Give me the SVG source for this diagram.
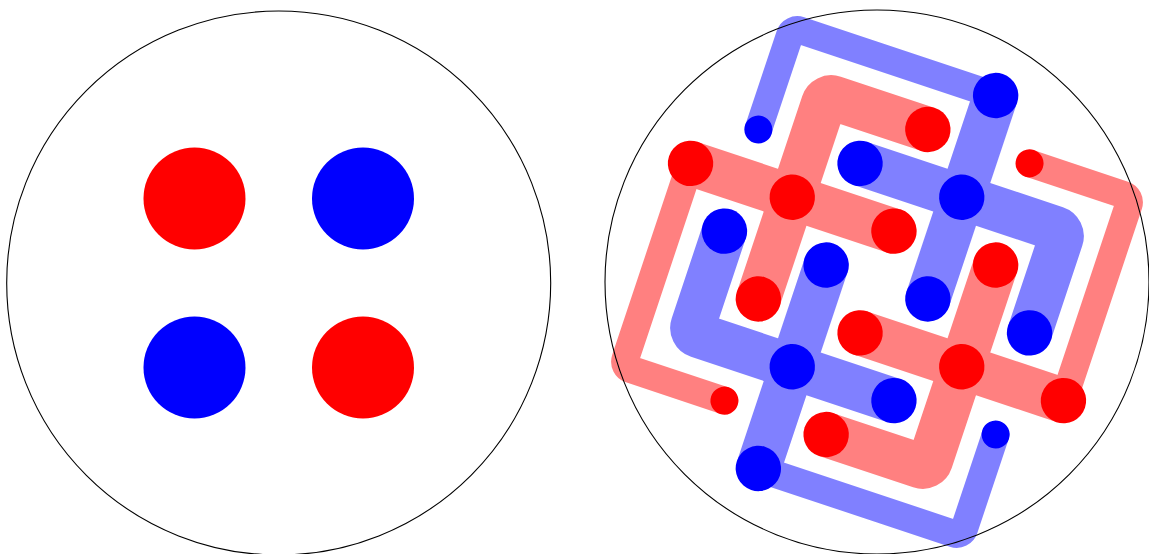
<svg xmlns="http://www.w3.org/2000/svg" width="1149" height="554" viewBox="0 0 1149 554">
<style>
.ring{fill:none;stroke:#000;stroke-width:1.1}
.rt,.rk{fill:none;stroke:#ff8080;stroke-linecap:butt;stroke-linejoin:round}
.bt,.bk{fill:none;stroke:#8080ff;stroke-linecap:butt;stroke-linejoin:round}
.rt,.bt{stroke-width:27.5}
.rk,.bk{stroke-width:45}
.r{fill:#ff0000}
.b{fill:#0000ff}
</style>
<rect width="1149" height="554" fill="#fff"/>
<g id="left">
<circle id="l-red-1" class="r" cx="194.5" cy="198.5" r="51"/>
<circle id="l-blue-1" class="b" cx="363" cy="198.5" r="51"/>
<circle id="l-blue-2" class="b" cx="194.5" cy="367.5" r="51"/>
<circle id="l-red-2" class="r" cx="363" cy="367.5" r="51"/>
<circle id="l-ring" class="ring" cx="278.7" cy="283" r="272"/>
</g>
<g id="right" transform="translate(877,282) rotate(18.4349)">
<g id="connectors">
<path class="rt" d="M107.2,-160.8 L206.4,-160.8 A8 8 0 0 1 214.4,-152.8 L214.4,53.6"/>
<path class="rt" d="M-107.2,160.8 L-206.4,160.8 A8 8 0 0 1 -214.4,152.8 L-214.4,-53.6"/>
<path class="bt" d="M-160.8,-107.2 L-160.8,-206.4 A8 8 0 0 1 -152.8,-214.4 L53.6,-214.4"/>
<path class="bt" d="M160.8,107.2 L160.8,206.4 A8 8 0 0 1 152.8,214.4 L-53.6,214.4"/>
<path class="rk" d="M214.4,53.6 L0,53.6"/>
<path class="rk" d="M-214.4,-53.6 L0,-53.6"/>
<path class="rk" d="M107.2,-53.6 L107.2,152.8 A8 8 0 0 1 99.2,160.8 L0,160.8"/>
<path class="rk" d="M-107.2,53.6 L-107.2,-152.8 A8 8 0 0 1 -99.2,-160.8 L0,-160.8"/>
<path class="bk" d="M53.6,-214.4 L53.6,0"/>
<path class="bk" d="M-53.6,214.4 L-53.6,0"/>
<path class="bk" d="M-53.6,-107.2 L152.8,-107.2 A8 8 0 0 1 160.8,-99.2 L160.8,0"/>
<path class="bk" d="M53.6,107.2 L-152.8,107.2 A8 8 0 0 1 -160.8,99.2 L-160.8,0"/>
</g>
<g id="red-nodes">
<circle class="r" cx="-214.4" cy="-53.6" r="22.7"/>
<circle class="r" cx="-107.2" cy="-53.6" r="22.7"/>
<circle class="r" cx="0" cy="-160.8" r="22.7"/>
<circle class="r" cx="0" cy="-53.6" r="22.7"/>
<circle class="r" cx="-107.2" cy="53.6" r="22.7"/>
<circle class="r" cx="107.2" cy="-53.6" r="22.7"/>
<circle class="r" cx="0" cy="53.6" r="22.7"/>
<circle class="r" cx="107.2" cy="53.6" r="22.7"/>
<circle class="r" cx="214.4" cy="53.6" r="22.7"/>
<circle class="r" cx="0" cy="160.8" r="22.7"/>
<circle class="r" cx="107.2" cy="-160.8" r="14"/>
<circle class="r" cx="-107.2" cy="160.8" r="14"/>
</g>
<g id="blue-nodes">
<circle class="b" cx="53.6" cy="-214.4" r="22.7"/>
<circle class="b" cx="-53.6" cy="-107.2" r="22.7"/>
<circle class="b" cx="53.6" cy="-107.2" r="22.7"/>
<circle class="b" cx="-160.8" cy="0" r="22.7"/>
<circle class="b" cx="-53.6" cy="0" r="22.7"/>
<circle class="b" cx="53.6" cy="0" r="22.7"/>
<circle class="b" cx="160.8" cy="0" r="22.7"/>
<circle class="b" cx="-53.6" cy="107.2" r="22.7"/>
<circle class="b" cx="53.6" cy="107.2" r="22.7"/>
<circle class="b" cx="-53.6" cy="214.4" r="22.7"/>
<circle class="b" cx="-160.8" cy="-107.2" r="14"/>
<circle class="b" cx="160.8" cy="107.2" r="14"/>
</g>
</g>
<circle id="r-ring" class="ring" cx="877" cy="282" r="272"/>
</svg>
